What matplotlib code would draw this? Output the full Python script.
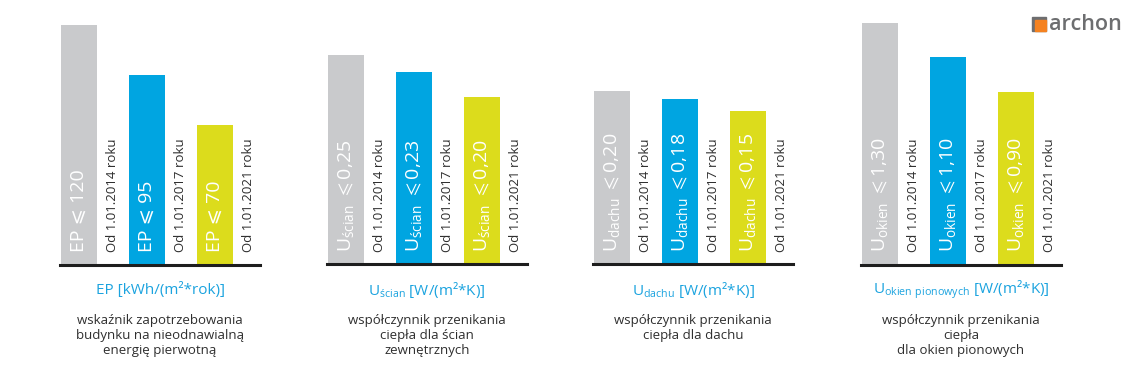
import matplotlib
matplotlib.use('Agg')
import matplotlib.pyplot as plt
import numpy as np
from matplotlib.patches import Rectangle

plt.rcParams['font.family'] = ['Open Sans', 'DejaVu Sans']
plt.rcParams['mathtext.fontset'] = 'custom'
plt.rcParams['mathtext.rm'] = 'Open Sans'
plt.rcParams['mathtext.it'] = 'Open Sans'
plt.rcParams['mathtext.fallback'] = 'stixsans'

# Data
dates = ['Od 1.01.2014 roku', 'Od 1.01.2017 roku', 'Od 1.01.2021 roku']
ep_values = [120, 95, 70]
sciany_values = [0.25, 0.23, 0.20]
dach_values = [0.20, 0.18, 0.15]
okna_values = [1.30, 1.10, 0.90]

symbols = ['EP', r'U$_{\mathregular{ścian}}$', r'U$_{\mathregular{dachu}}$',
           r'U$_{\mathregular{okien}}$']
units = ['EP [kWh/(m²*rok)]',
         r'U$_{\mathregular{ścian}}$ [W/(m²*K)]',
         r'U$_{\mathregular{dachu}}$ [W/(m²*K)]',
         r'U$_{\mathregular{okien\ pionowych}}$ [W/(m²*K)]']
descriptions = ['wskaźnik zapotrzebowania\nbudynku na nieodnawialną\nenergię pierwotną',
                'współczynnik przenikania\nciepła dla ścian\nzewnętrznych',
                'współczynnik przenikania\nciepła dla dachu',
                'współczynnik przenikania\nciepła\ndla okien pionowych']
all_values = [ep_values, sciany_values, dach_values, okna_values]

# Colours
COLORS = ['#c9cacc', '#00a5e1', '#dcdc1c']
BLUE_TEXT = '#1ba3df'
DARK = '#2e2e2e'

# Layout (pixels)
W, H = 1140, 375
panel_left = [60, 327, 593, 861]
baseline_y = [265, 264, 264, 265]
panel_w = 200
panel_h = 250
px_per_unit = [2.0, 835.0, 400.0, 172.5]
floor = [0.0, 0.0, -0.2325, -0.104]

fig = plt.figure(figsize=(W / 100, H / 100), dpi=100)


def fmt(v):
    if float(v).is_integer() and v > 10:
        return f'{int(v)}'
    return f'{v:.2f}'.replace('.', ',')


for p in range(4):
    ax = fig.add_axes([panel_left[p] / W, (H - baseline_y[p]) / H,
                       panel_w / W, panel_h / H])
    vals = np.array(all_values[p], dtype=float)
    x = np.arange(len(vals))
    f = floor[p]
    ax.bar(x, vals - f, bottom=f, width=0.54, color=COLORS)
    ax.set_xlim(-0.28, 2.66)
    ax.set_ylim(f, f + panel_h / px_per_unit[p])
    ax.axhline(f, color='#1e1e1e', lw=2.2, clip_on=False)
    ax.axis('off')

    for i, v in enumerate(vals):
        if p == 0:
            label = f'{symbols[p]} ⩽ {fmt(v)}'
        else:
            label = symbols[p] + r' $\leqslant$' + fmt(v)
        ax.annotate(label, xy=(i, f), xytext=(0, 9),
                    textcoords='offset points', rotation=90,
                    ha='center', va='bottom', color='white', fontsize=14)
        ax.annotate(dates[i], xy=(i + 0.49, f), xytext=(0, 9),
                    textcoords='offset points', rotation=90,
                    ha='center', va='bottom', color=DARK, fontsize=9.5)

    cx = (panel_left[p] + panel_w / 2) / W
    fig.text(cx, 1 - 290 / H, units[p], ha='center', va='center',
             color=BLUE_TEXT, fontsize=11)
    fig.text(cx, 1 - 314 / H, descriptions[p], ha='center', va='top',
             color=DARK, fontsize=9.5, linespacing=1.2)

# Logo
fig.patches.append(Rectangle((1032 / W, 1 - 31 / H), 14 / W, 14 / H,
                             transform=fig.transFigure, color='#6d6e70'))
fig.patches.append(Rectangle((1035 / W, 1 - 31 / H), 11 / W, 11 / H,
                             transform=fig.transFigure, color='#f58220'))
fig.text(1049 / W, 1 - 24 / H, 'archon', ha='left', va='center',
         color='#6d6e70', fontsize=15.5, fontweight='semibold')

fig.savefig('out.png', dpi=100)
